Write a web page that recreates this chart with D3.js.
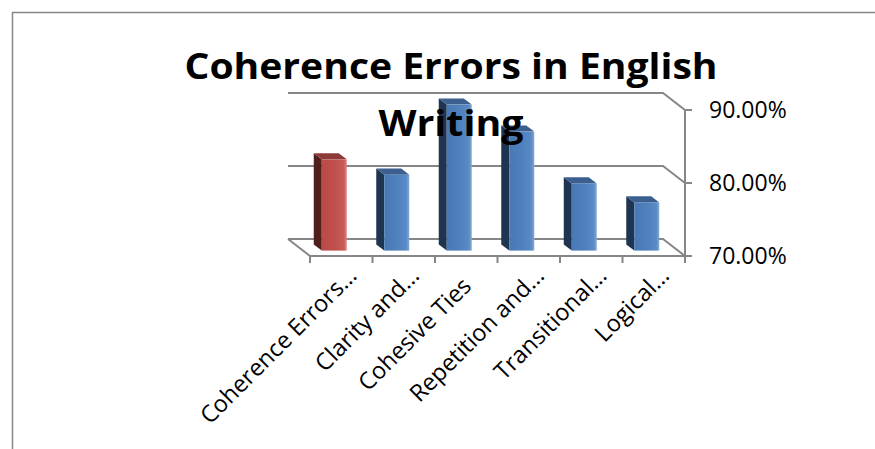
<!DOCTYPE html>
<html>
<head>
<meta charset="utf-8">
<script src="https://cdn.jsdelivr.net/npm/d3@7/dist/d3.min.js"></script>
<style>
  html, body { margin: 0; padding: 0; background: #ffffff; }
  svg { display: block; }
</style>
</head>
<body>
<svg id="chart" width="875" height="449"></svg>
<script>
// ---- data ----
const categories = ["Coherence Errors…", "Clarity and…", "Cohesive Ties", "Repetition and…", "Transitional…", "Logical…"];
const values = [0.825, 0.804, 0.900, 0.863, 0.792, 0.766];
const highlighted = ["Coherence Errors…"];
const yTicks = [0.70, 0.80, 0.90];
const yDomain = [0.70, 0.90];
const titleLines = ["Coherence Errors in English", "Writing"];

// ---- layout ----
const W = 875, H = 449;
const svg = d3.select("#chart");
const font = "'Open Sans', 'Noto Sans', sans-serif";
const grid = "#868686";

// frame
svg.append("rect").attr("x", 12.5).attr("y", 12.5).attr("width", W).attr("height", H)
  .attr("fill", "none").attr("stroke", grid).attr("stroke-width", 1.5);

const x = d3.scaleBand().domain(categories).range([310, 685]).padding(0);
const y = d3.scaleLinear().domain(yDomain).range([256, 110]);
const depth = { dx: -22, dy: -17 };         // front -> back of floor
const barFront = 7 / 22, barBack = 15 / 22; // bar depth within floor depth
const barWidthRatio = 0.40;

const defs = svg.append("defs");
function grad(id, stops) {
  const g = defs.append("linearGradient").attr("id", id).attr("x1", "0").attr("x2", "1").attr("y1", "0").attr("y2", "0");
  stops.forEach(s => g.append("stop").attr("offset", s[0]).attr("stop-color", s[1]));
}
grad("gRed", [[0, "#b94a47"], [0.55, "#c0504d"], [0.88, "#c85b58"], [1, "#dc8481"]]);
grad("gBlue", [[0, "#4979b5"], [0.55, "#4f81bd"], [0.88, "#5a8bc6"], [1, "#86a9d6"]]);
const palette = {
  red: { front: "url(#gRed)", side: "#4f1f1e", top: "#8e3a38" },
  blue: { front: "url(#gBlue)", side: "#1f3450", top: "#3b6090" }
};

// back-wall gridlines with right-side returns
const x0 = x.range()[0], x1 = x.range()[1];
const line = d3.line();
const gGrid = svg.append("g").attr("fill", "none").attr("stroke", grid).attr("stroke-width", 2);
yTicks.forEach(t => {
  const yf = y(t);
  gGrid.append("path").attr("d", line([[x0 + depth.dx, yf + depth.dy], [x1 + depth.dx, yf + depth.dy], [x1, yf]]));
});
// floor left edge and front edge
const yBase = y(yDomain[0]);
gGrid.append("path").attr("d", line([[x0 + depth.dx, yBase + depth.dy], [x0, yBase], [x1, yBase]]));
// right value axis
gGrid.append("path").attr("d", line([[x1, y(yDomain[1])], [x1, yBase + 6]]));
yTicks.forEach(t => {
  gGrid.append("path").attr("d", line([[x1, y(t)], [x1 + 7, y(t)]]));
});
// category ticks
const boundaries = categories.map(c => x(c)).concat([x1]);
boundaries.forEach(b => {
  gGrid.append("path").attr("d", line([[b, yBase], [b, yBase + 7]]));
});

// value labels
const fmt = d3.format(".2%");
svg.append("g").selectAll("text").data(yTicks).join("text")
  .attr("x", x1 + 24).attr("y", d => y(d) + 8)
  .attr("font-family", font).attr("font-size", 23).attr("fill", "#000")
  .text(d => fmt(d));

// bars
const gBars = svg.append("g");
categories.forEach((c, i) => {
  const v = values[i];
  const col = highlighted.includes(c) ? palette.red : palette.blue;
  const bw = x.bandwidth() * barWidthRatio;
  const cx = x(c) + x.bandwidth() / 2 + depth.dx * barFront;
  const xl = cx - bw / 2, xr = cx + bw / 2;
  const yb = y(yDomain[0]) + depth.dy * barFront;
  const yt = y(v) + depth.dy * barFront;
  const ddx = depth.dx * (barBack - barFront), ddy = depth.dy * (barBack - barFront);
  // left side
  gBars.append("path").attr("fill", col.side)
    .attr("d", line([[xl, yt], [xl, yb], [xl + ddx, yb + ddy], [xl + ddx, yt + ddy]]) + "Z");
  // top
  gBars.append("path").attr("fill", col.top)
    .attr("d", line([[xl, yt], [xr, yt], [xr + ddx, yt + ddy], [xl + ddx, yt + ddy]]) + "Z");
  // front
  gBars.append("rect").attr("x", xl).attr("y", yt).attr("width", bw).attr("height", yb - yt)
    .attr("fill", col.front);
});

// category labels (rotated)
svg.append("g").selectAll("text").data(categories).join("text")
  .attr("transform", d => `translate(${x(d) + x.bandwidth() / 2 + 17},${yBase + 21}) rotate(-45)`)
  .attr("dx", d => d.endsWith("…") ? 0 : -15)
  .attr("text-anchor", "end")
  .attr("font-family", font).attr("font-size", 23.5).attr("fill", "#000")
  .text(d => d);

// title (drawn on top)
const gTitle = svg.append("g").attr("font-family", font).attr("font-weight", "bold")
  .attr("font-size", 36).attr("fill", "#000").attr("text-anchor", "middle");
gTitle.append("text").attr("x", 451).attr("y", 79).attr("textLength", 533)
  .attr("lengthAdjust", "spacingAndGlyphs").text(titleLines[0]);
gTitle.append("text").attr("x", 451).attr("y", 136).attr("textLength", 145)
  .attr("lengthAdjust", "spacingAndGlyphs").text(titleLines[1]);
</script>
</body>
</html>
